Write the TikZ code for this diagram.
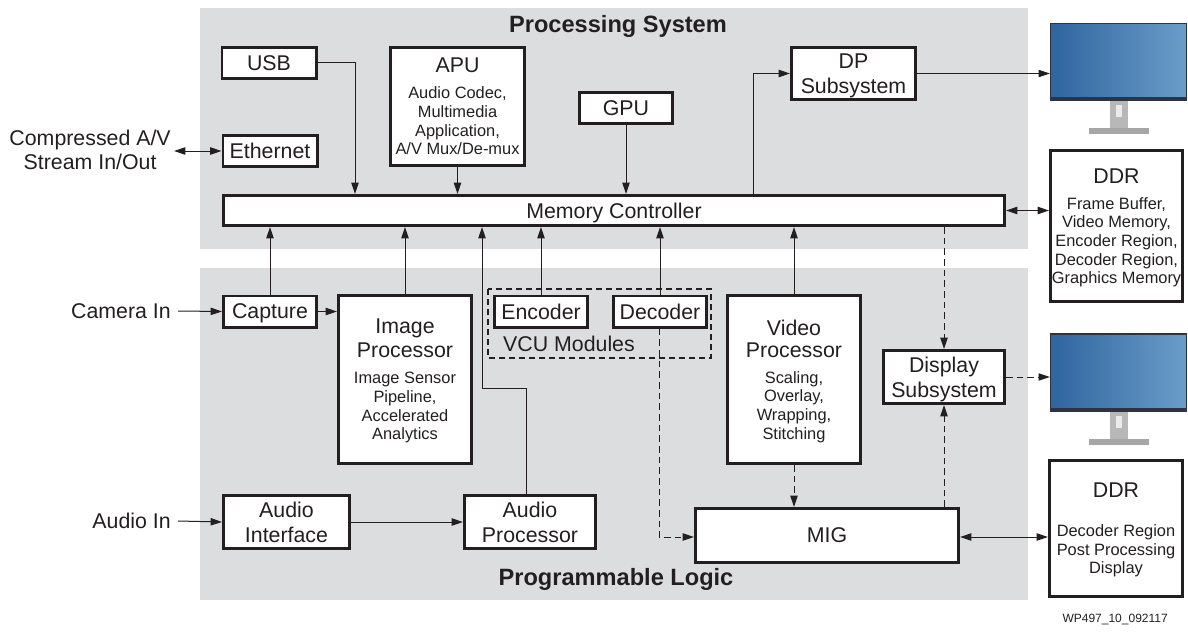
\documentclass[tikz,border=0pt]{standalone}
\usepackage{fontspec}
\setmainfont{Liberation Sans}
\usepackage{xcolor}
\usetikzlibrary{arrows.meta, calc}

\definecolor{regiongray}{HTML}{DCDDDF}
\definecolor{inkdark}{HTML}{231F20}
\definecolor{bezeldark}{HTML}{2B3440}
\definecolor{screendark}{HTML}{2F659F}
\definecolor{screenlight}{HTML}{6B9DC9}
\newcommand{\smalltext}{\fontsize{12.3}{14}\selectfont}
\newcommand{\mainsize}{\fontsize{16}{18.5}\selectfont}

\tikzset{
	region/.style={fill=regiongray, draw=none},
	blockbox/.style 2 args={draw=inkdark, fill=white, line width=2.2pt, inner sep=0pt, align=center, text=inkdark, text depth=0pt, font=\mainsize, minimum width=#1*0.75pt-2.2pt, minimum height=#2*0.75pt-2.2pt},
	listbox/.style={font=\fontsize{16}{14}\selectfont},
	link/.style={draw=inkdark, line width=0.75pt, -{Triangle[length=8.5pt,width=5.5pt]}},
	twoway/.style={draw=inkdark, line width=0.75pt, {Triangle[length=8.5pt,width=5.5pt]}-{Triangle[length=8.5pt,width=5.5pt]}},
	dashlink/.style={link, dash pattern=on 5pt off 3pt},
	screen/.style={draw=bezeldark, line width=1pt, inner sep=0pt, minimum width=102pt, minimum height=58pt, shading angle=60, left color=screendark, right color=screenlight},
	plainlabel/.style={inner sep=0pt, align=center, text=inkdark, font=\mainsize},
	title/.style={inner sep=0pt, text=inkdark, font=\fontsize{17.7}{20}\selectfont\bfseries},
}

\begin{document}
\begin{tikzpicture}[x=0.75pt, y=-0.75pt]
	\useasboundingbox (0,0) rectangle (1188,635);

	% the two grey regions
	\fill[region] (200,8) rectangle (1028,249);
	\fill[region] (200,268) rectangle (1028,600);
	\node[title] (ps) at (618,26) {Processing System};
	\node[title] (pl) at (616,579) {Programmable Logic};

	% processing system
	\node[blockbox={97}{34}] (usb) at (269,63) {USB};
	\node[blockbox={97}{34}] (eth) at (270,151) {Ethernet};
	\node[blockbox={137}{121}, listbox] (apu) at (457.5,106.5) {APU\\[5.5pt]\smalltext Audio Codec,\\\smalltext Multimedia\\\smalltext Application,\\\smalltext A/V Mux/De-mux};
	\node[blockbox={96}{34}] (gpu) at (626,108) {GPU};
	\node[blockbox={127}{55}] (dp) at (853.5,73.5) {DP\\Subsystem};
	\node[blockbox={784}{33}] (memctl) at (614,210.5) {Memory Controller};

	% programmable logic
	\node[blockbox={96}{34}] (capture) at (270,311.5) {Capture};
	\node[blockbox={136}{171}, listbox] (imgproc) at (405,379.5) {Image\\[2.5pt]Processor\\[5.5pt]\smalltext Image Sensor\\\smalltext Pipeline,\\\smalltext Accelerated\\\smalltext Analytics};
	\draw[draw=inkdark, line width=0.9pt, dash pattern=on 4.5pt off 3pt] (488,289) rectangle (711,358);
	\node[blockbox={96}{34}] (encoder) at (541,311.5) {Encoder};
	\node[blockbox={96}{34}] (decoder) at (660,311.5) {Decoder};
	\node[plainlabel] (vcu) at (569,344) {VCU Modules};
	\node[blockbox={136}{171}, listbox] (vidproc) at (794,379.5) {Video\\[2.5pt]Processor\\[5.5pt]\smalltext Scaling,\\\smalltext Overlay,\\\smalltext Wrapping,\\\smalltext Stitching};
	\node[blockbox={124}{56}] (dispsys) at (944,377) {Display\\Subsystem};
	\node[blockbox={129}{56}] (audioif) at (286.5,522) {Audio\\Interface};
	\node[blockbox={134}{56}] (audioproc) at (530,522) {Audio\\Processor};
	\node[blockbox={266}{57}] (mig) at (827,535.5) {MIG};

	% outside the regions
	\node[blockbox={135}{154}, listbox] (ddr1) at (1116.5,226) {DDR\\[5.5pt]\smalltext Frame Buffer,\\\smalltext Video Memory,\\\smalltext Encoder Region,\\\smalltext Decoder Region,\\\smalltext Graphics Memory};
	\node[blockbox={136}{139}, listbox] (ddr2) at (1116,528.5) {DDR\\[15pt]\smalltext Decoder Region\\\smalltext Post Processing\\\smalltext Display};

	\node[screen] (mon1) at (1118.5,62) {};
	\node[screen] (mon2) at (1118.5,372.5) {};
	\foreach \m in {mon1, mon2} {
		\fill[black!28] ($(\m.south)+(-9,0)$) rectangle ($(\m.south)+(9,27)$);
		\fill[black!8] ($(\m.south)+(-3,4)$) rectangle ($(\m.south)+(3,16)$);
		\fill[black!35] ($(\m.south)+(-30,27)$) rectangle ($(\m.south)+(30,33)$);
		\fill[bezeldark] ($(\m.south west)+(0,-4)$) rectangle (\m.south east);
	}

	\node[plainlabel, anchor=east] (stream) at (171,150) {Compressed A/V\\Stream In/Out};
	\node[plainlabel, anchor=east] (camera) at (171,311) {Camera In};
	\node[plainlabel, anchor=east] (audio) at (171,521) {Audio In};
	\node[inner sep=0pt, text=inkdark, font=\fontsize{9}{11}\selectfont, anchor=east] (wpid) at (1168,619) {WP497\_10\_092117};

	% points where lines meet the boxes away from their anchors
	\coordinate (mcusb) at (355,194);
	\coordinate (mcaudio) at (482,227);
	\coordinate (apstart) at (526,494);
	\coordinate (apcorner) at (482,388);
	\coordinate (mcdp) at (753,194);
	\coordinate (mcdisp) at (944,227);
	\coordinate (decmig) at (659,537);
	\coordinate (streamend) at (174,151);
	\coordinate (cameraend) at (178,311);
	\coordinate (audioend) at (178,521);

	\draw[link] (usb.east) -| (mcusb);
	\draw[link] (apu.south) -- (apu.south |- memctl.north);
	\draw[link] (gpu.south) -- (gpu.south |- memctl.north);
	\draw[link] (mcdp) |- (dp.west);
	\draw[link] (dp.east) -- (dp.east -| mon1.west);
	\draw[twoway] (streamend) -- (eth.west);
	\draw[twoway] (memctl.east) -- (memctl.east -| ddr1.west);

	\draw[link] (capture.north) -- (capture.north |- memctl.south);
	\draw[link] (imgproc.north) -- (imgproc.north |- memctl.south);
	\draw[link] (encoder.north) -- (encoder.north |- memctl.south);
	\draw[link] (decoder.north) -- (decoder.north |- memctl.south);
	\draw[link] (vidproc.north) -- (vidproc.north |- memctl.south);
	\draw[link] (apstart) |- (apcorner) -- (mcaudio);

	\draw[link] (cameraend) -- (capture.west);
	\draw[link] (capture.east) -- (capture.east -| imgproc.west);
	\draw[link] (audioend) -- (audioif.west);
	\draw[link] (audioif.east) -- (audioproc.west);
	\draw[twoway] (mig.east |- decmig) -- (ddr2.west |- decmig);

	\draw[dashlink] (mcdisp) -- (dispsys.north);
	\draw[dashlink] (dispsys.east) -- (dispsys.east -| mon2.west);
	\draw[dashlink] (mig.north -| dispsys.south) -- (dispsys.south);
	\draw[dashlink] (vidproc.south) -- (vidproc.south |- mig.north);
	\draw[dashlink] (decoder.south -| decmig) |- (mig.west |- decmig);
\end{tikzpicture}
\end{document}
